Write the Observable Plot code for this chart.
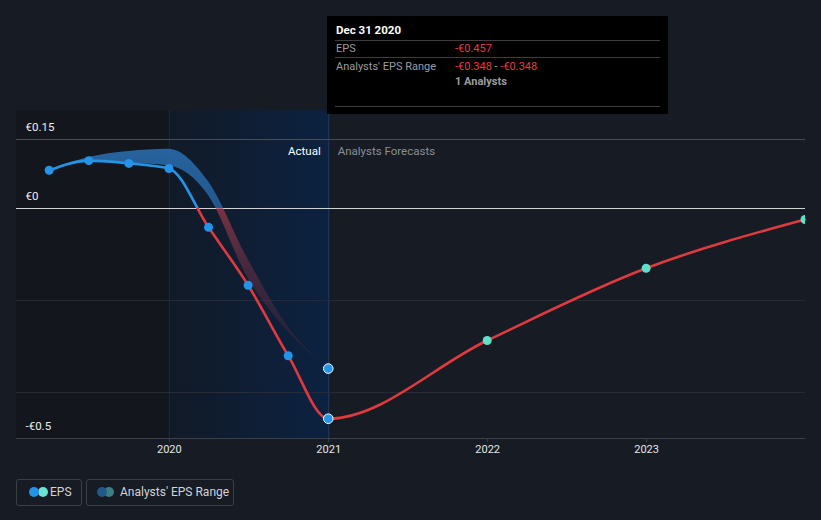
<!DOCTYPE html>
<html>
<head>
<meta charset="utf-8">
<script src="https://cdn.jsdelivr.net/npm/d3@7"></script>
<script src="https://cdn.jsdelivr.net/npm/@observablehq/plot@0.6"></script>
<style>
  html, body { margin: 0; padding: 0; background: #161b24; }
  #wrap { position: relative; width: 821px; height: 520px; background: #161b24; font-family: Roboto, "Noto Sans", sans-serif; overflow: hidden; }
  #chart { position: absolute; left: 0; top: 0; }
  .tip { position: absolute; left: 327px; top: 16px; width: 341px; height: 98px; background: #000; }
  .tip div { position: absolute; font-size: 11px; white-space: nowrap; line-height: 13px; }
  .tip .sep { position: absolute; left: 8px; width: 325px; height: 1px; background: #3e3e3e; }
  .leg { position: absolute; top: 479px; height: 27px; border: 1px solid #3a3f48; border-radius: 3px; box-sizing: border-box; }
  .leg .c { position: absolute; top: 7px; width: 10px; height: 10px; border-radius: 50%; }
  .leg .t { position: absolute; top: 5px; font-size: 12px; color: #d2d4d8; white-space: nowrap; line-height: 14px; }
</style>
</head>
<body>
<div id="wrap">
  <div id="chart"></div>
</div>
<script>
// ---- data ----
const actualDates = ["2019-03-31","2019-06-30","2019-09-30","2019-12-31","2020-03-31","2020-06-30","2020-09-30","2020-12-31"];
const actualEPS   = [0.083, 0.104, 0.098, 0.087, -0.041, -0.167, -0.320, -0.457];
const forecastDates = ["2021-12-31","2022-12-31","2023-12-31"];
const forecastEPS   = [-0.287, -0.130, -0.024];
const rangeDates = ["2019-03-31","2019-06-30","2019-09-30","2019-12-31","2020-03-31","2020-06-30","2020-09-30","2020-12-31"];
const rangeLow   = [0.083, 0.100, 0.098, 0.093, 0.028, -0.152, -0.268, -0.348];
const rangeHigh  = [0.083, 0.111, 0.124, 0.129, 0.058, -0.111, -0.257, -0.348];
const analystsCount = 1;
const yTickValues = [0.15, 0, -0.5];
const yTickLabels = ["€0.15", "€0", "-€0.5"];
const xTickYears = ["2020", "2021", "2022", "2023"];
const hoverDate = "2020-12-31";

// ---- tables ----
const P = d3.utcParse("%Y-%m-%d");
const actual = actualDates.map((d, i) => ({date: P(d), eps: actualEPS[i]}));
const forecast = forecastDates.map((d, i) => ({date: P(d), eps: forecastEPS[i]}));
const combined = actual.concat(forecast);
const range = rangeDates.map((d, i) => ({date: P(d), lo: rangeLow[i], hi: rangeHigh[i]}));
const xTicks = xTickYears.map(y => new Date(Date.UTC(+y, 0, 1)));
const yTicks = yTickValues.map((v, i) => ({v, label: yTickLabels[i]}));
const hover = P(hoverDate);
const hoverActual = actual.find(d => +d.date === +hover);
const hoverRange = range.find(d => +d.date === +hover);
const domainStart = new Date(Date.UTC(2019, 0, 15));
const domainEnd = new Date(Date.UTC(2024, 0, 1));
const yearStart2020 = xTicks[0];
const yearStart2021 = xTicks[1];

const plot = Plot.plot({
  width: 821,
  height: 470,
  marginLeft: 16,
  marginRight: 16,
  marginTop: 110,
  marginBottom: 32,
  style: {background: "transparent", color: "#e6e6e6", fontFamily: "Roboto, sans-serif", fontSize: "11px"},
  x: {type: "utc", domain: [domainStart, domainEnd]},
  y: {domain: [-0.5, 0.213], axis: null},
  marks: [
    Plot.rectX([0], {x1: () => domainStart, x2: () => yearStart2020, y1: -0.5, y2: 0.213, fill: "#13161c"}),
    Plot.rectX([0], {x1: () => yearStart2020, x2: () => yearStart2021, y1: -0.5, y2: 0.213, fill: "url(#actualGrad)"}),
    Plot.ruleX([yearStart2020], {y1: -0.5, y2: 0.213, stroke: "#1a2a44", strokeWidth: 1}),
    Plot.ruleX([yearStart2021], {y1: -0.5, y2: 0.213, stroke: "#1d3b66", strokeWidth: 1}),
    Plot.ruleY([0.15], {stroke: "#4a4e57", strokeWidth: 1}),
    Plot.ruleY([-0.2, -0.4], {stroke: "#272c36", strokeWidth: 1}),
    Plot.ruleY([-0.5], {stroke: "#3c4049", strokeWidth: 1}),
    Plot.ruleY([0], {stroke: "#d6d6d6", strokeWidth: 1}),
    Plot.axisX({ticks: xTicks, tickFormat: d3.utcFormat("%Y"), tickSize: 4, tickPadding: 3, stroke: "#3c4049", color: "#e6e6e6", fontSize: 11, label: null}),
    Plot.text(yTicks, {y: "v", text: "label", frameAnchor: "left", dx: 9, dy: -12, textAnchor: "start", fill: "#eeeeee", fontSize: 11.5}),
    Plot.text(["Actual"], {x: () => yearStart2021, y: () => 0.15, text: d => d, dx: -8, dy: 12, textAnchor: "end", fill: "#ffffff", fontSize: 11.5}),
    Plot.text(["Analysts Forecasts"], {x: () => yearStart2021, y: () => 0.15, text: d => d, dx: 9, dy: 12, textAnchor: "start", fill: "#8a8f98", fontSize: 11.5}),
    Plot.areaY(range, {x: "date", y1: "lo", y2: "hi", curve: "monotone-x", fill: "url(#bandGrad)"}),
    Plot.line(combined, {x: "date", y: "eps", curve: "monotone-x", stroke: "url(#lineGrad)", strokeWidth: 2.6}),
    Plot.dot(actual.filter(d => +d.date !== +hover), {x: "date", y: "eps", r: 4.5, fill: "#2394e8"}),
    Plot.dot(forecast, {x: "date", y: "eps", r: 4.5, fill: "#5fe0c9", clip: true}),
    Plot.dot([hoverRange], {x: "date", y: "lo", r: 4.8, fill: "#2394e8", stroke: "#ffffff", strokeWidth: 1}),
    Plot.dot([hoverActual], {x: "date", y: "eps", r: 4.8, fill: "#2394e8", stroke: "#ffffff", strokeWidth: 1})
  ]
});

const ys = plot.scale("y");
const yPix = v => ys.apply(v);
const ns = "http://www.w3.org/2000/svg";
const defs = document.createElementNS(ns, "defs");
function grad(id, attrs, stops) {
  const g = document.createElementNS(ns, "linearGradient");
  g.setAttribute("id", id);
  for (const k in attrs) g.setAttribute(k, attrs[k]);
  for (const s of stops) {
    const st = document.createElementNS(ns, "stop");
    st.setAttribute("offset", s[0]);
    st.setAttribute("stop-color", s[1]);
    st.setAttribute("stop-opacity", s[2]);
    g.appendChild(st);
  }
  defs.appendChild(g);
}
grad("actualGrad", {x1: 0, x2: 1, y1: 0, y2: 0}, [[0, "#111a27", 1], [1, "#0c2241", 1]]);
{
  const top = yPix(0.15), bot = yPix(-0.36), z = (yPix(0) - top) / (bot - top);
  grad("bandGrad", {gradientUnits: "userSpaceOnUse", x1: 0, x2: 0, y1: top, y2: bot},
    [[0, "#2a6eb0", 0.9], [z, "#2766a6", 0.8], [z, "#b03e50", 0.65], [0.55, "#9c3a4c", 0.38], [1, "#8a3446", 0.05]]);
}
{
  const top = yPix(0.15), bot = yPix(-0.5), z = (yPix(0) - top) / (bot - top);
  grad("lineGrad", {gradientUnits: "userSpaceOnUse", x1: 0, x2: 0, y1: top, y2: bot},
    [[0, "#2394e8", 1], [z, "#2394e8", 1], [z, "#e0393e", 1], [1, "#e0393e", 1]]);
}
plot.insertBefore(defs, plot.firstChild);
document.getElementById("chart").appendChild(plot);

const fmt = v => (v < 0 ? "-€" : "€") + Math.abs(v).toFixed(3);
const wrap = document.getElementById("wrap");
const tip = document.createElement("div");
tip.className = "tip";
const dateLabel = d3.utcFormat("%b %d %Y")(hover);
tip.innerHTML =
  `<div style="left:9px;top:8px;color:#fff;font-weight:bold;font-size:11.5px">${dateLabel}</div>` +
  `<div class="sep" style="top:24px"></div>` +
  `<div style="left:9px;top:26px;color:#9a9ca0">EPS</div>` +
  `<div style="left:128px;top:26px;color:#e8393e">${fmt(hoverActual.eps)}</div>` +
  `<div class="sep" style="top:41px"></div>` +
  `<div style="left:9px;top:44px;color:#9a9ca0">Analysts' EPS Range</div>` +
  `<div style="left:128px;top:44px;color:#e8393e">${fmt(hoverRange.lo)}<span style="color:#9a9ca0"> - </span>${fmt(hoverRange.hi)}</div>` +
  `<div style="left:128px;top:59px;color:#9a9ca0;font-weight:bold">${analystsCount} Analysts</div>` +
  `<div class="sep" style="top:90px"></div>`;
wrap.appendChild(tip);

const leg1 = document.createElement("div");
leg1.className = "leg";
leg1.style.left = "16px"; leg1.style.width = "66px";
leg1.innerHTML = `<div class="c" style="left:21px;background:#6be3d0"></div><div class="c" style="left:12px;background:#2394e8"></div><div class="t" style="left:33px">EPS</div>`;
wrap.appendChild(leg1);
const leg2 = document.createElement("div");
leg2.className = "leg";
leg2.style.left = "86px"; leg2.style.width = "148px";
leg2.innerHTML = `<div class="c" style="left:17px;background:#3c7e84"></div><div class="c" style="left:10px;background:#1f5a8a"></div><div class="t" style="left:33px">Analysts' EPS Range</div>`;
wrap.appendChild(leg2);
</script>
</body>
</html>
